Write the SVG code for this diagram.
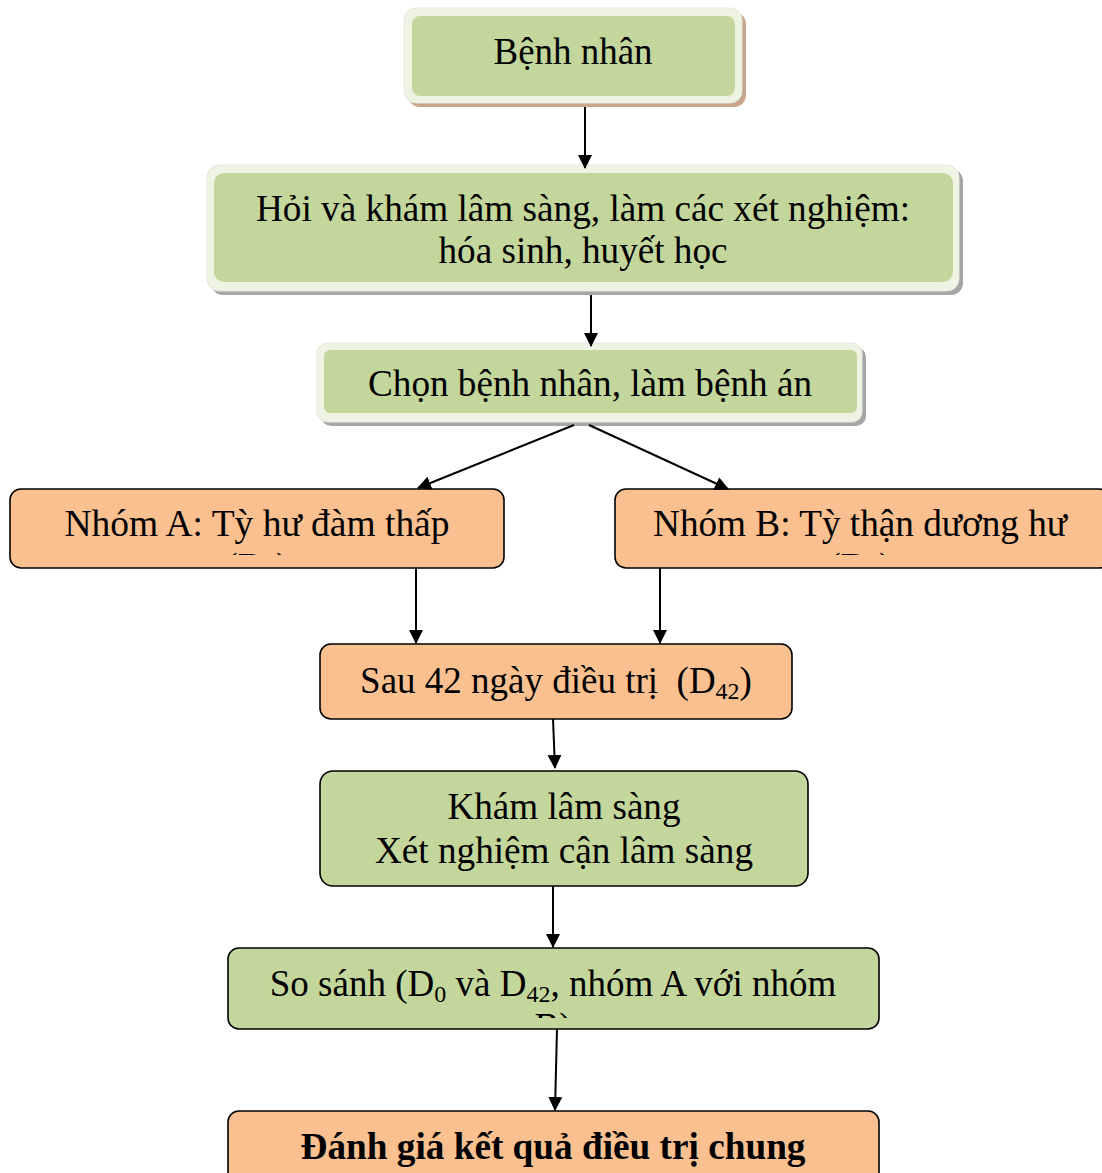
<svg xmlns="http://www.w3.org/2000/svg" width="1102" height="1173" viewBox="0 0 1102 1173">
<style>
text{font-family:"Liberation Serif","Times New Roman",serif;font-size:37px;fill:#000;text-anchor:middle}
.b{font-weight:bold}
.sub{font-size:24px}
.fr{fill:#eef3e4;stroke:#e4e9dc;stroke-width:1}
.gi{fill:#c3d69b}
.sg{fill:#a6a6a6}
.st{fill:#c9a68a}
.or{fill:#fac090;stroke:#000;stroke-width:1.6}
.gr{fill:#c3d69b;stroke:#000;stroke-width:1.6}
.cn line{stroke:#000;stroke-width:2;marker-end:url(#ah)}
</style>
<defs>
<marker id="ah" markerUnits="userSpaceOnUse" markerWidth="14" markerHeight="16" refX="13" refY="7" orient="auto" viewBox="0 0 14 14">
<path d="M0,0 L14,7 L0,14 Z" fill="#000"/>
</marker>
<clipPath id="cA"><rect x="0" y="480" width="1102" height="75"/></clipPath>
<clipPath id="cS"><rect x="0" y="940" width="1102" height="78"/></clipPath>
</defs>
<rect width="1102" height="1173" fill="#fff"/>
<g id="n1">
<rect class="st" x="408" y="12" width="338" height="95" rx="12"/>
<rect class="fr" x="404" y="8" width="338" height="95" rx="12"/>
<rect class="gi" x="412" y="16" width="323" height="80" rx="8"/>
<text x="573" y="64" textLength="159" lengthAdjust="spacingAndGlyphs">Bệnh nhân</text>
</g>
<g id="n2">
<rect class="sg" x="211" y="169" width="752" height="126" rx="12"/>
<rect class="fr" x="207" y="165" width="752" height="126" rx="12"/>
<rect class="gi" x="214" y="173" width="739" height="109" rx="10"/>
<text x="583" y="221" textLength="654" lengthAdjust="spacingAndGlyphs">Hỏi và khám lâm sàng, làm các xét nghiệm:</text>
<text x="583" y="263" textLength="289" lengthAdjust="spacingAndGlyphs">hóa sinh, huyết học</text>
</g>
<g id="n3">
<rect class="sg" x="321" y="347" width="545" height="79" rx="10"/>
<rect class="fr" x="317" y="343" width="545" height="79" rx="10"/>
<rect class="gi" x="324" y="350" width="533" height="63" rx="6"/>
<text x="590" y="396" textLength="444" lengthAdjust="spacingAndGlyphs">Chọn bệnh nhân, làm bệnh án</text>
</g>
<g id="nA">
<rect class="or" x="10" y="489" width="494" height="79" rx="11"/>
<text x="257" y="536" textLength="385" lengthAdjust="spacingAndGlyphs">Nhóm A: Tỳ hư đàm thấp</text>
<text x="257" y="579" clip-path="url(#cA)">(D<tspan class="sub" dy="6">0</tspan><tspan dy="-6">)</tspan></text>
</g>
<g id="nB">
<rect class="or" x="615" y="489" width="495" height="79" rx="11"/>
<text x="860" y="536" textLength="414" lengthAdjust="spacingAndGlyphs">Nhóm B: Tỳ thận dương hư</text>
<text x="860" y="579" clip-path="url(#cA)">(D<tspan class="sub" dy="6">0</tspan><tspan dy="-6">)</tspan></text>
</g>
<g id="n4">
<rect class="or" x="320" y="644" width="472" height="75" rx="11"/>
<text x="556" y="693" xml:space="preserve">Sau 42 ngày điều trị  (D<tspan class="sub" dy="6">42</tspan><tspan dy="-6">)</tspan></text>
</g>
<g id="n5">
<rect class="gr" x="320" y="771" width="488" height="115" rx="13"/>
<text x="564" y="819" textLength="233" lengthAdjust="spacingAndGlyphs">Khám lâm sàng</text>
<text x="564" y="863" textLength="378" lengthAdjust="spacingAndGlyphs">Xét nghiệm cận lâm sàng</text>
</g>
<g id="n6">
<rect class="gr" x="228" y="948" width="651" height="81" rx="11"/>
<text x="553" y="996">So sánh (D<tspan class="sub" dy="6">0</tspan><tspan dy="-6"> và D</tspan><tspan class="sub" dy="6">42</tspan><tspan dy="-6">, nhóm A với nhóm</tspan></text>
<text x="553" y="1039" clip-path="url(#cS)">B)</text>
</g>
<g id="n7">
<rect class="or" x="228" y="1111" width="651" height="80" rx="11"/>
<text class="b" x="553" y="1159" textLength="505" lengthAdjust="spacingAndGlyphs">Đánh giá kết quả điều trị chung</text>
</g>
<g id="connectors" class="cn">
<line x1="585" y1="107" x2="585" y2="168"/>
<line x1="591" y1="295" x2="591" y2="346"/>
<line x1="574" y1="425" x2="418" y2="488"/>
<line x1="589" y1="425" x2="728" y2="489"/>
<line x1="416" y1="568" x2="416" y2="643"/>
<line x1="660" y1="568" x2="660" y2="643"/>
<line x1="553" y1="719" x2="555" y2="768"/>
<line x1="553" y1="886" x2="553" y2="947"/>
<line x1="557" y1="1029" x2="555" y2="1110"/>
</g>
</svg>
